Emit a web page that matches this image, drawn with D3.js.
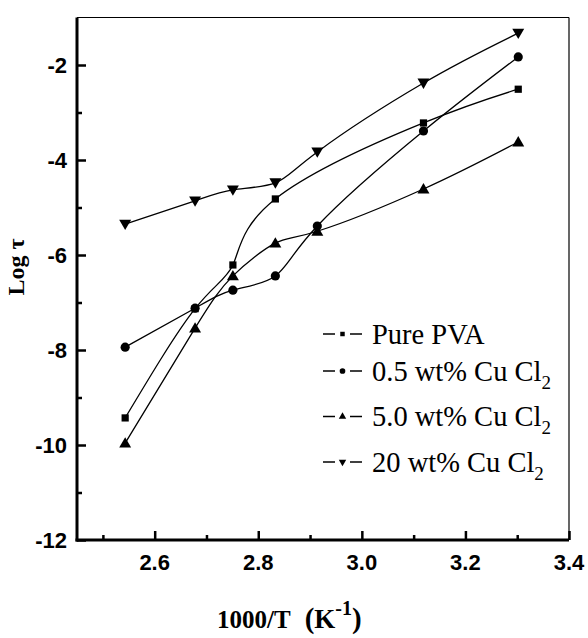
<!DOCTYPE html>
<html>
<head>
<meta charset="utf-8">
<script src="https://cdn.jsdelivr.net/npm/d3@7"></script>
<style>
  body { margin: 0; background: #fff; }
  svg { display: block; }
</style>
</head>
<body>
<div id="chart"></div>
<script>
// 1000/T values (K^-1) shared by all four series
const invT = [2.543, 2.678, 2.751, 2.833, 2.914, 3.119, 3.302];

const seriesNames = ["Pure PVA", "0.5 wt% Cu Cl", "5.0 wt% Cu Cl", "20 wt% Cu Cl"];
const seriesSub   = ["", "2", "2", "2"];
const seriesSym   = ["square", "circle", "triangle", "triangleDown"];

// Log tau, one array per series (null = no point)
const logPure  = [-9.43, -7.13, -6.21, -4.82, null, -3.22, -2.51];
const logCu05  = [-7.94, -7.12, -6.74, -6.44, -5.39, -3.39, -1.83];
const logCu50  = [-9.96, -7.54, -6.44, -5.75, -5.50, -4.61, -3.62];
const logCu20  = [-5.35, -4.86, -4.63, -4.48, -3.83, -2.38, -1.33];
const seriesValues = [logPure, logCu05, logCu50, logCu20];

const xMajor = [2.6, 2.8, 3.0, 3.2, 3.4];
const xMinor = [2.5, 2.7, 2.9, 3.1, 3.3];
const yMajor = [-12, -10, -8, -6, -4, -2];
const yMinor = [-11, -9, -7, -5, -3];

const W = 588, H = 638;
const margin = { top: 17.5, right: 19, bottom: 98, left: 77 };

const svg = d3.select("#chart").append("svg")
  .attr("width", W).attr("height", H);

const x = d3.scaleLinear().domain([2.45, 3.4]).range([margin.left, W - margin.right]);
const y = d3.scaleLinear().domain([-12, -1]).range([H - margin.bottom, margin.top]);

const SANS = "'Liberation Sans', Arial, sans-serif";
const SERIF = "'Liberation Serif', 'Times New Roman', serif";

// frame: thin top/right
svg.append("line")
  .attr("x1", x(2.45)).attr("x2", x(3.4)).attr("y1", y(-1)).attr("y2", y(-1))
  .attr("stroke", "#000").attr("stroke-width", 1.2);
svg.append("line")
  .attr("x1", x(3.4)).attr("x2", x(3.4)).attr("y1", y(-1)).attr("y2", y(-12))
  .attr("stroke", "#000").attr("stroke-width", 1.2);

// ── Axes (ticks pointing inward) ─────────────────────────────
const xAxis = svg.append("g").attr("transform", `translate(0,${y(-12)})`)
  .call(d3.axisTop(x).tickValues(xMajor).tickSize(9).tickFormat(""));
svg.append("g").attr("transform", `translate(0,${y(-12)})`)
  .call(d3.axisTop(x).tickValues(xMinor).tickSize(5).tickFormat(""))
  .call(g => g.select(".domain").remove());

const yAxis = svg.append("g").attr("transform", `translate(${x(2.45)},0)`)
  .call(d3.axisRight(y).tickValues(yMajor).tickSize(9).tickFormat(""));
svg.append("g").attr("transform", `translate(${x(2.45)},0)`)
  .call(d3.axisRight(y).tickValues(yMinor).tickSize(5).tickFormat(""))
  .call(g => g.select(".domain").remove());

svg.selectAll(".domain").attr("stroke-width", 3).attr("stroke", "#000");
svg.selectAll(".tick line").attr("stroke-width", 2.5).attr("stroke", "#000");
xAxis.select(".domain").attr("d", `M${x(2.45) - 1.5},0H${x(3.4)}`);
yAxis.select(".domain").attr("d", `M0,${y(-1)}V${y(-12) + 1.5}`);

// tick labels
svg.append("g").selectAll("text").data(xMajor).join("text")
  .attr("x", d => x(d)).attr("y", y(-12) + 30)
  .attr("text-anchor", "middle")
  .style("font-family", SANS).style("font-weight", "bold").style("font-size", "22px")
  .text(d => d3.format(".1f")(d));

svg.append("g").selectAll("text").data(yMajor).join("text")
  .attr("x", x(2.45) - 10).attr("y", d => y(d) + 8)
  .attr("text-anchor", "end")
  .style("font-family", SANS).style("font-weight", "bold").style("font-size", "22px")
  .text(d => d);

// axis titles
const xt = svg.append("text")
  .attr("x", 217).attr("y", 628)
  .style("font-family", SERIF).style("font-weight", "bold").style("font-size", "25px");
xt.append("tspan").text("1000/T");
xt.append("tspan").attr("dx", 14).style("font-size", "29px").text("(");
xt.append("tspan").style("font-size", "27px").text("K");
xt.append("tspan").attr("dy", -13).style("font-size", "20px").text("-1");
xt.append("tspan").attr("dy", 13).style("font-size", "29px").text(")");

svg.append("text")
  .attr("transform", `translate(24,${267}) rotate(-90)`)
  .attr("text-anchor", "middle")
  .style("font-family", SERIF).style("font-weight", "bold").style("font-size", "24px")
  .text("Log τ");

// ── Series ───────────────────────────────────────────────────
function symbolPath(kind, scale) {
  const s = scale || 1;
  if (kind === "square") return d3.symbol(d3.symbolSquare, 52 * s * s)();
  if (kind === "circle") return d3.symbol(d3.symbolCircle, 66 * s * s)();
  return d3.symbol(d3.symbolTriangle, 62 * s * s)();
}

const line = d3.line()
  .defined(d => d[1] != null)
  .x(d => x(d[0])).y(d => y(d[1]))
  .curve(d3.curveNatural);

seriesValues.forEach((vals, i) => {
  const pts = invT.map((t, k) => [t, vals[k]]).filter(d => d[1] != null);
  svg.append("path")
    .datum(pts)
    .attr("d", line)
    .attr("fill", "none").attr("stroke", "#000").attr("stroke-width", 1.3);
});

seriesValues.forEach((vals, i) => {
  const pts = invT.map((t, k) => [t, vals[k]]).filter(d => d[1] != null);
  const kind = seriesSym[i];
  svg.append("g").selectAll("path").data(pts).join("path")
    .attr("d", symbolPath(kind))
    .attr("transform", d => {
      const dy = kind === "triangle" ? 1 : kind === "triangleDown" ? -1 : 0;
      return `translate(${x(d[0])},${y(d[1]) + dy})` + (kind === "triangleDown" ? " rotate(180)" : "");
    })
    .attr("fill", "#000");
});

// ── Legend ───────────────────────────────────────────────────
let ly = 334;
const lx = 323;
seriesNames.forEach((name, i) => {
  const kind = seriesSym[i];
  const g = svg.append("g").attr("transform", `translate(${lx},${ly})`);
  g.append("line").attr("x1", 0).attr("x2", 12).attr("stroke", "#000").attr("stroke-width", 1.5);
  g.append("line").attr("x1", 27).attr("x2", 39).attr("stroke", "#000").attr("stroke-width", 1.5);
  g.append("path").attr("d", symbolPath(kind, 0.62))
    .attr("transform", `translate(19.5,0)` + (kind === "triangleDown" ? " rotate(180)" : ""))
    .attr("fill", "#000");
  const t = g.append("text").attr("x", 49).attr("y", 9.5)
    .style("font-family", SERIF).style("font-size", "28.5px");
  t.append("tspan").text(name);
  if (seriesSub[i]) t.append("tspan").attr("dy", 8).style("font-size", "19px").text(seriesSub[i]);
  ly += seriesSub[i] ? 45.5 : 37;
});
</script>
</body>
</html>
